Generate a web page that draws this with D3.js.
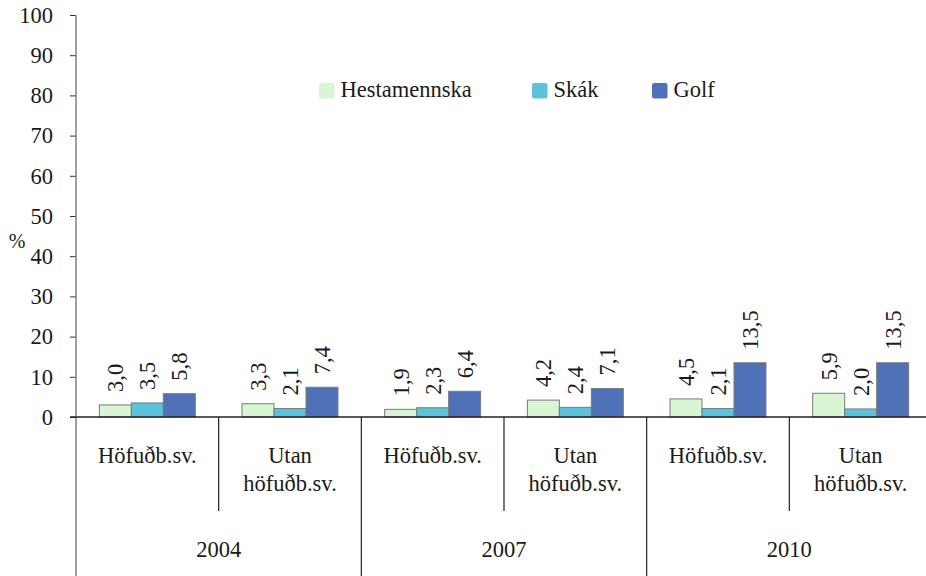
<!DOCTYPE html>
<html>
<head>
<meta charset="utf-8">
<script src="https://cdn.jsdelivr.net/npm/d3@7"></script>
<style>
  body { margin: 0; background: #fff; }
  svg text { font-family: 'Liberation Serif', 'Times New Roman', serif; fill: #1a1a1a; }
</style>
</head>
<body>
<div id="chart"></div>
<script>
var width = 926;
var height = 576;
var margin = { top: 15, right: -6, bottom: 159, left: 76 };

// data
var years = ["2004", "2007", "2010"];
var regions = [["Höfuðb.sv."], ["Utan", "höfuðb.sv."]];
var keys = ["Hestamennska", "Skák", "Golf"];
var hestamennska = [3.0, 3.3, 1.9, 4.2, 4.5, 5.9];
var skak = [3.5, 2.1, 2.3, 2.4, 2.1, 2.0];
var golf = [5.8, 7.4, 6.4, 7.1, 13.5, 13.5];
var yTicks = [0, 10, 20, 30, 40, 50, 60, 70, 80, 90, 100];

var colors = ["#d8f5d4", "#5cc3dc", "#4f71b7"];
var serif = "'Liberation Serif', 'Times New Roman', serif";
var fs = 22.5;

// one row per year/region pair
var rows = [];
years.forEach(function(y, yi) {
    regions.forEach(function(r, ri) {
        var i = yi * regions.length + ri;
        rows.push({ id: i, year: y, region: r, values: [hestamennska[i], skak[i], golf[i]] });
    });
});

var x0 = d3.scaleBand()
    .domain(rows.map(function(d) { return d.id; }))
    .range([margin.left, width - margin.right]);

var bandW = x0.bandwidth();
var x1 = d3.scaleBand()
    .domain(keys)
    .range([0, bandW])
    .paddingOuter(0.73)
    .paddingInner(0);

var yScale = d3.scaleLinear()
    .domain([0, 100])
    .range([height - margin.bottom, margin.top]);

var svg = d3.select("#chart")
    .append("svg")
    .attr("width", width)
    .attr("height", height)
    .attr("font-family", serif);

var y0 = yScale(0);

// y axis
var yAxis = svg.append("g")
    .attr("transform", "translate(" + margin.left + ",0)")
    .call(d3.axisLeft(yScale).tickValues(yTicks).tickSize(6).tickPadding(17));
yAxis.attr("font-family", serif).attr("font-size", fs);
yAxis.select(".domain").remove();
yAxis.selectAll(".tick line").attr("stroke", "#333");
yAxis.selectAll(".tick text").attr("fill", "#1a1a1a");

// vertical axis line running down through the category area
svg.append("line")
    .attr("x1", margin.left).attr("x2", margin.left)
    .attr("y1", yScale(100)).attr("y2", height)
    .attr("stroke", "#7f7f7f").attr("stroke-width", 1.5);

svg.append("text")
    .attr("x", 17).attr("y", 248)
    .attr("text-anchor", "middle")
    .attr("font-size", 20)
    .text("%");

// bars
var groups = svg.selectAll("g.grp")
    .data(rows)
    .enter()
    .append("g")
    .attr("class", "grp")
    .attr("transform", function(d) { return "translate(" + x0(d.id) + ",0)"; });

groups.selectAll("rect")
    .data(function(d) { return d.values.map(function(v, k) { return { key: keys[k], k: k, v: v }; }); })
    .enter()
    .append("rect")
    .attr("x", function(d) { return x1(d.key); })
    .attr("y", function(d) { return yScale(d.v); })
    .attr("width", x1.bandwidth())
    .attr("height", function(d) { return y0 - yScale(d.v); })
    .attr("fill", function(d) { return colors[d.k]; })
    .attr("stroke", "#7a7a7a")
    .attr("stroke-width", 1);

groups.selectAll("text.val")
    .data(function(d) { return d.values.map(function(v, k) { return { key: keys[k], v: v }; }); })
    .enter()
    .append("text")
    .attr("class", "val")
    .attr("transform", function(d) {
        var cx = x1(d.key) + x1.bandwidth() / 2;
        return "translate(" + cx + "," + (yScale(d.v) - 13) + ") rotate(-90)";
    })
    .attr("dy", "0.35em")
    .attr("font-size", fs)
    .text(function(d) { return d3.format(".1f")(d.v).replace(".", ","); });

// x axis line
svg.append("line")
    .attr("x1", margin.left - 6).attr("x2", width)
    .attr("y1", y0).attr("y2", y0)
    .attr("stroke", "#222").attr("stroke-width", 1.5);

// separators between regions (short) and years (long)
svg.selectAll("line.sep")
    .data(rows.slice(1))
    .enter()
    .append("line")
    .attr("class", "sep")
    .attr("x1", function(d) { return x0(d.id); })
    .attr("x2", function(d) { return x0(d.id); })
    .attr("y1", y0)
    .attr("y2", function(d) { return d.id % regions.length === 0 ? height : 511; })
    .attr("stroke", "#222").attr("stroke-width", 1.2);

// region labels
var regLabels = svg.selectAll("text.reg")
    .data(rows)
    .enter()
    .append("text")
    .attr("class", "reg")
    .attr("text-anchor", "middle")
    .attr("font-size", fs)
    .attr("x", function(d) { return x0(d.id) + bandW / 2; })
    .attr("y", 463);
regLabels.selectAll("tspan")
    .data(function(d) { return d.region; })
    .enter()
    .append("tspan")
    .attr("x", function() { return this.parentNode.getAttribute("x"); })
    .attr("dy", function(d, i) { return i === 0 ? 0 : 28; })
    .text(function(d) { return d; });

// year labels
svg.selectAll("text.year")
    .data(years)
    .enter()
    .append("text")
    .attr("class", "year")
    .attr("text-anchor", "middle")
    .attr("font-size", fs)
    .attr("x", function(d, i) { return x0(i * regions.length) + bandW; })
    .attr("y", 557)
    .text(function(d) { return d; });

// legend
var legendX = [319, 532, 652];
var legend = svg.selectAll("g.leg")
    .data(keys)
    .enter()
    .append("g")
    .attr("class", "leg")
    .attr("transform", function(d, i) { return "translate(" + legendX[i] + ",83)"; });
legend.append("rect")
    .attr("width", 15.5).attr("height", 15.5)
    .attr("rx", 2)
    .attr("fill", function(d, i) { return colors[i]; });
legend.append("text")
    .attr("x", 21.5).attr("y", 14)
    .attr("font-size", fs)
    .text(function(d) { return d; });
</script>
</body>
</html>
